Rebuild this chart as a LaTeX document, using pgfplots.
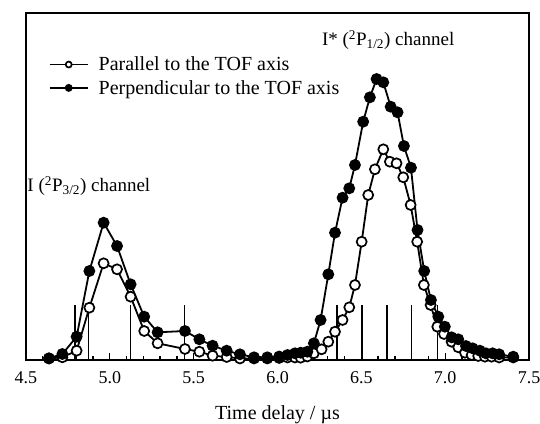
\documentclass[border=0pt]{standalone}
\usepackage{fontspec}
\setmainfont{Liberation Serif}
\usepackage{pgfplots}
\usepackage{pgfplotstable}
\pgfplotsset{compat=1.18}

\pgfplotstableread{
x y
4.637 1.5
4.717 2.7
4.802 9.3
4.878 52.3
4.963 96.7
5.043 90.7
5.124 63.3
5.205 29
5.285 16.7
5.448 11
5.534 8.3
5.613 4.3
5.697 3
5.776 1.5
5.860 1.5
5.939 1.5
6.010 2
6.060 2.5
6.104 2.5
6.138 2.3
6.178 3.5
6.217 6.7
6.263 10.7
6.303 18.3
6.343 28.3
6.388 40
6.428 52.7
6.462 75
6.502 118.3
6.541 165
6.581 190.7
6.631 210.7
6.670 198.3
6.710 196.7
6.750 182.7
6.794 155
6.833 118.3
6.873 75
6.913 55
6.953 33.3
6.993 26
7.038 18.3
7.078 12.7
7.118 7.3
7.158 5
7.197 4
7.237 3.3
7.277 3.3
7.322 2.5
7.406 2.5
}\parallel

\pgfplotstableread{
x y
4.637 1.7
4.717 6
4.802 23.3
4.878 89
4.963 137.3
5.043 114
5.124 75.7
5.205 43.3
5.285 27.7
5.448 29
5.534 20.7
5.613 14.3
5.697 9.3
5.776 5.7
5.860 2.7
5.939 2.7
6.010 3.5
6.060 5
6.104 6.7
6.138 7.3
6.178 8.3
6.217 16.7
6.257 40
6.303 85.7
6.343 127.3
6.388 162.3
6.428 171.7
6.462 195
6.511 238.3
6.551 262.7
6.591 281
6.631 277.7
6.675 253.3
6.716 247.7
6.754 214
6.796 192.3
6.835 130
6.875 89
6.915 60
6.959 43.3
6.998 33.3
7.038 22.7
7.078 20.7
7.124 14
7.164 11.7
7.207 9.3
7.243 6.7
7.283 6.7
7.322 5.7
7.406 3.3
}\perpendicular

\pgfplotstableread{
x y
4.793 55
4.873 55
5.123 55
5.446 55
6.354 55
6.504 55
6.654 55
6.800 55
6.955 55
}\sticks

\begin{document}
\begin{tikzpicture}
\begin{axis}[
  name=ax,
  scale only axis, width=503pt, height=347pt,
  xmin=4.5, xmax=7.5, ymin=0, ymax=347,
  xtick={4.5,5,5.5,6,6.5,7,7.5},
  xticklabels={4.5,5.0,5.5,6.0,6.5,7.0,7.5},
  minor x tick num=4,
  ytick=\empty,
  xtick pos=left,
  tick align=inside,
  major tick length=7pt, minor tick length=4pt,
  every tick/.style={black, line width=1.3pt},
  axis line style={line width=1.9pt},
  /pgf/number format/assume math mode=true,
  tick label style={font=\fontsize{18}{20}\selectfont},
  xticklabel style={yshift=-8pt},
  label style={font=\fontsize{20}{22}\selectfont},
  xlabel={Time delay / µs},
  xlabel style={yshift=-15pt},
  clip=false,
  legend style={draw=none, fill=none, at={(axis description cs:0.045,0.88)}, anchor=north west,
    font=\fontsize{20}{22}\selectfont, row sep=4pt, inner sep=0pt, cells={anchor=west}},
  legend image code/.code={\draw[mark repeat=2,mark phase=2,#1,mark size=3pt] plot coordinates {(0pt,0pt) (19pt,0pt) (38pt,0pt)}; \path (46pt,0pt);},
]
\addplot[ycomb, black, line width=1.5pt, forget plot] table {\sticks};
\addplot[black, line width=1.8pt, mark=*, mark size=5pt, mark options={fill=white, draw=black, line width=1.7pt}] table {\parallel};
\addlegendentry{Parallel to the TOF axis}
\addplot[black, line width=1.8pt, mark=*, mark size=5pt, mark options={fill=black, draw=black}] table {\perpendicular};
\addlegendentry{Perpendicular to the TOF axis}
\node[font=\fontsize{19}{21}\selectfont] at (axis cs:6.66,320) {I* (\textsuperscript{2}P\textsubscript{1/2}) channel};
\node[font=\fontsize{19}{21}\selectfont] at (axis cs:4.875,174) {I (\textsuperscript{2}P\textsubscript{3/2}) channel};
\end{axis}
\pgfresetboundingbox
\path ([shift={(-26pt,-63pt)}]ax.south west) rectangle ([shift={(11pt,13pt)}]ax.north east);
\end{tikzpicture}
\end{document}
